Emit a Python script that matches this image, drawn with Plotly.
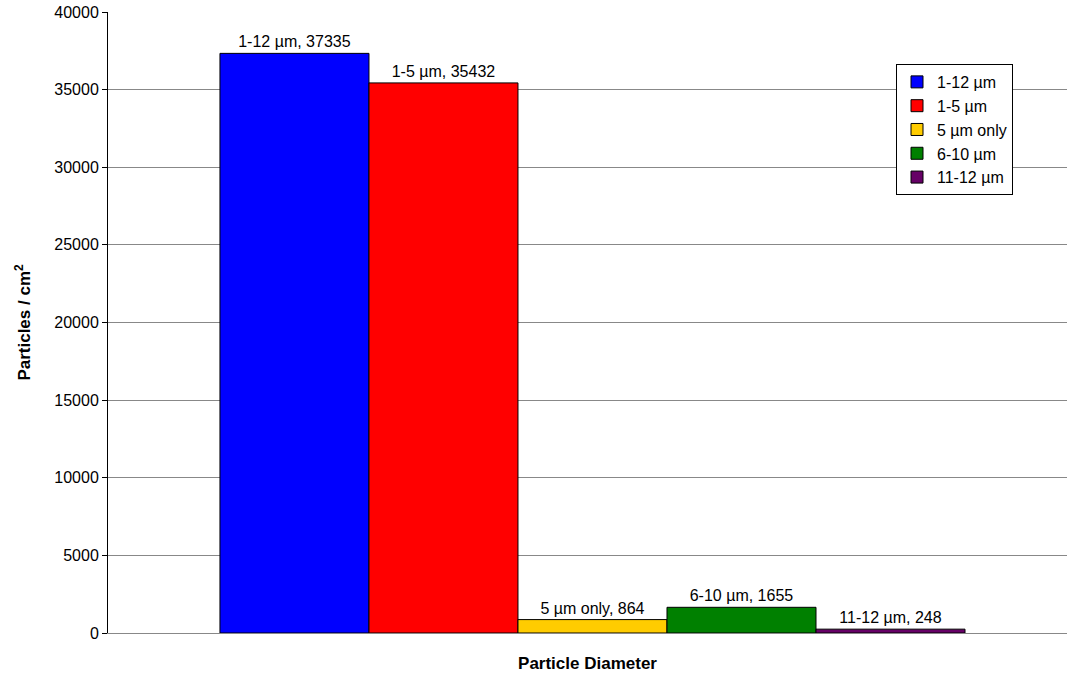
import plotly.graph_objects as go

series_names = ["1-12 µm", "1-5 µm", "5 µm only", "6-10 µm", "11-12 µm"]
series_values = [37335, 35432, 864, 1655, 248]
series_colors = ["#0000FF", "#FF0000", "#FFCC00", "#008000", "#660066"]
category = ["Particle Diameter"]

FONT = "Liberation Sans, Arial, sans-serif"

fig = go.Figure()
for name, val, col in zip(series_names, series_values, series_colors):
    fig.add_trace(go.Bar(
        name=name, x=category, y=[val],
        marker=dict(color=col, line=dict(color="black", width=1)),
        text=[f"{name}, {val}"], textposition="outside",
        textfont=dict(family=FONT, size=16, color="black"),
        constraintext="none", cliponaxis=False,
    ))

fig.update_layout(
    width=1067, height=674,
    margin=dict(l=108, r=0, t=12, b=41),
    paper_bgcolor="white", plot_bgcolor="white",
    barmode="group", bargap=0.2231, bargroupgap=0,
    font=dict(family=FONT, size=16, color="black"),
    showlegend=True,
    legend=dict(
        x=0.8217, y=0.9163, xanchor="left", yanchor="top",
        bgcolor="white", bordercolor="black", borderwidth=1,
        font=dict(family=FONT, size=16, color="black"),
        itemwidth=30, tracegroupgap=0,
    ),
    xaxis=dict(
        range=[-0.5052, 0.4948], showticklabels=False, ticks="",
        showline=True, linecolor="#888888", linewidth=1,
        showgrid=False, zeroline=False,
        title=dict(text="<b>Particle Diameter</b>", font=dict(family=FONT, size=17), standoff=24),
    ),
    yaxis=dict(
        range=[0, 40000], dtick=5000, tickformat="d",
        showline=True, linecolor="black", linewidth=1,
        ticks="outside", ticklen=5, tickcolor="black",
        showgrid=True, gridcolor="#888888", gridwidth=1, zeroline=False,
        tickfont=dict(family=FONT, size=16, color="black"),
        title=dict(text="<b>Particles / cm<sup>2</sup></b>", font=dict(family=FONT, size=17), standoff=19),
    ),
)

fig.write_html("out.html")
